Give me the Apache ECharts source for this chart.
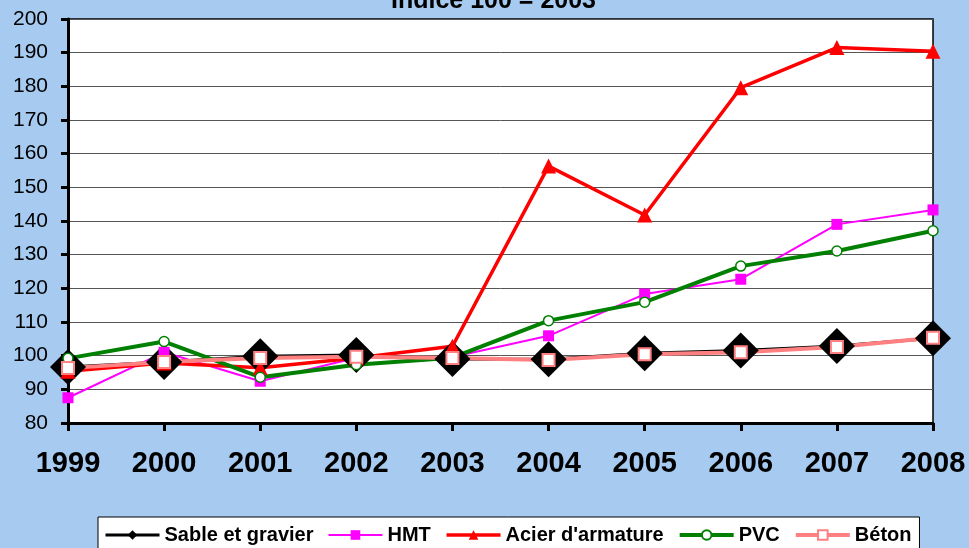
<!DOCTYPE html>
<html>
<head>
<meta charset="utf-8">
<script src="https://cdn.jsdelivr.net/npm/echarts@6/dist/echarts.min.js"></script>
<style>
  html, body { margin: 0; padding: 0; background: #A6CAF0; }
  #chart { width: 969px; height: 548px; }
</style>
</head>
<body>
<div id="chart"></div>
<script>
const years = ["1999", "2000", "2001", "2002", "2003", "2004", "2005", "2006", "2007", "2008"];
const sableGravier = [96.6, 98.1, 99.8, 100.2, 99.0, 98.9, 100.7, 101.5, 102.9, 105.2];
const hmt = [87.5, 101.0, 92.4, 99.4, 99.6, 105.9, 118.3, 122.7, 139.0, 143.3];
const acier = [95.4, 97.8, 96.4, 99.3, 102.8, 156.3, 141.8, 179.6, 191.5, 190.4];
const pvc = [99.2, 104.2, 93.6, 97.3, 99.4, 110.4, 115.9, 126.6, 131.1, 137.1];
const beton = [96.3, 98.1, 99.3, 99.7, 99.3, 98.7, 100.4, 101.0, 102.6, 105.3];
const yTicks = { min: 80, max: 200, step: 10 };

const font = "'Liberation Sans', Arial, sans-serif";
const chart = echarts.init(document.getElementById("chart"));

const option = {
  backgroundColor: "#A6CAF0",
  animation: false,
  title: {
    text: "Indice 100 = 2003",
    left: 386,
    top: -16,
    textStyle: { fontFamily: font, fontSize: 25, fontWeight: "bold", color: "#000" }
  },
  legend: {
    left: 98,
    top: 517,
    backgroundColor: "#fff",
    borderColor: "#000",
    borderWidth: 1,
    borderRadius: 0,
    padding: [8, 8, 20, 6],
    itemWidth: 54,
    itemHeight: 12,
    itemGap: 14,
    lineStyle: { width: "inherit" },
    textStyle: { fontFamily: font, fontSize: 20, fontWeight: "bold", color: "#000" }
  },
  grid: {
    left: 68,
    right: 36,
    top: 19,
    bottom: 125,
    show: true,
    backgroundColor: "#fff",
    borderColor: "#000",
    borderWidth: 1.5
  },
  xAxis: {
    type: "category",
    data: years,
    boundaryGap: false,
    axisLine: { lineStyle: { color: "#000", width: 3 } },
    axisTick: { length: 8, lineStyle: { color: "#000", width: 3 } },
    axisLabel: { fontFamily: font, fontSize: 29, fontWeight: "bold", color: "#000", margin: 26 }
  },
  yAxis: {
    type: "value",
    min: yTicks.min,
    max: yTicks.max,
    interval: yTicks.step,
    axisLine: { show: true, lineStyle: { color: "#000", width: 3 } },
    axisTick: { show: true, length: 7, lineStyle: { color: "#000", width: 3 } },
    axisLabel: { fontFamily: font, fontSize: 21, color: "#000", margin: 20 },
    splitLine: { lineStyle: { color: "#555", width: 1 } }
  },
  series: [
    {
      name: "Sable et gravier",
      type: "line",
      data: sableGravier,
      symbol: "diamond",
      symbolSize: 36,
      lineStyle: { color: "#000", width: 3 },
      itemStyle: { color: "#000" }
    },
    {
      name: "HMT",
      type: "line",
      data: hmt,
      symbol: "rect",
      symbolSize: 11,
      lineStyle: { color: "#FF00FF", width: 2 },
      itemStyle: { color: "#FF00FF" }
    },
    {
      name: "Acier d'armature",
      type: "line",
      data: acier,
      symbol: "triangle",
      symbolSize: 15,
      lineStyle: { color: "#FF0000", width: 3.5 },
      itemStyle: { color: "#FF0000" }
    },
    {
      name: "PVC",
      type: "line",
      data: pvc,
      symbol: "circle",
      symbolSize: 10,
      lineStyle: { color: "#008000", width: 4 },
      itemStyle: { color: "#fff", borderColor: "#008000", borderWidth: 1.5 }
    },
    {
      name: "Béton",
      type: "line",
      data: beton,
      symbol: "rect",
      symbolSize: 12,
      lineStyle: { color: "#FF8080", width: 4 },
      itemStyle: { color: "#fff", borderColor: "#FF8080", borderWidth: 2 }
    }
  ]
};

chart.setOption(option);
</script>
</body>
</html>
